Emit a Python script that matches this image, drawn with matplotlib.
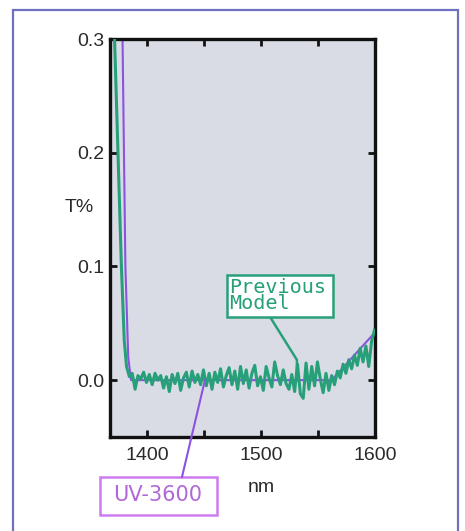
import numpy as np
import matplotlib
matplotlib.use("Agg")
import matplotlib.pyplot as plt
from matplotlib.patches import Rectangle

# UV-3600 curve (nm, T%)
UV_X = [1374.0, 1378.5, 1381.0, 1383.5, 1386.0, 1562.0, 1600.0]
UV_Y = [0.42, 0.30, 0.10, 0.02, 0.0, 0.0, 0.042]

# Previous model curve: steep edge then noisy floor
PREV_HEAD_X = [1366.0, 1371.5, 1377.5, 1380.0, 1382.0, 1384.5]
PREV_HEAD_Y = [0.42, 0.30, 0.10, 0.035, 0.012, 0.003]

PREV_NOISE_X = [
    1387.0, 1389.5, 1392.0, 1394.5, 1397.0, 1399.5, 1402.0, 1404.5, 1407.0, 1409.5,
    1412.0, 1414.5, 1417.0, 1419.5, 1422.0, 1424.5, 1427.0, 1429.5, 1432.0, 1434.5,
    1437.0, 1439.5, 1442.0, 1444.5, 1447.0, 1449.5, 1452.0, 1454.5, 1457.0, 1459.5,
    1462.0, 1464.5, 1467.0, 1469.5, 1472.0, 1474.5, 1477.0, 1479.5, 1482.0, 1484.5,
    1487.0, 1489.5, 1492.0, 1494.5, 1497.0, 1499.5, 1502.0, 1504.5, 1507.0, 1509.5,
    1512.0, 1514.5, 1517.0, 1519.5, 1522.0, 1524.5, 1527.0, 1529.5, 1532.0, 1534.5,
    1537.0, 1539.5, 1542.0, 1544.5, 1547.0, 1549.5, 1552.0, 1554.5, 1557.0, 1559.5,
    1562.0, 1564.5, 1567.0, 1569.5, 1572.0, 1574.5, 1577.0, 1579.5, 1582.0, 1584.5,
    1587.0, 1589.5, 1592.0, 1594.5, 1597.0, 1599.5,
]
PREV_NOISE_Y = [
    0.006, -0.008, 0.004, 0.001, 0.007, -0.002, 0.005, -0.004, 0.006, 0.000,
    0.004, -0.007, 0.003, -0.010, 0.005, -0.003, 0.006, -0.009, 0.002, 0.007,
    -0.006, 0.008, -0.002, 0.005, -0.004, 0.009, -0.005, 0.006, -0.008, 0.007,
    -0.002, 0.010, -0.006, 0.004, 0.011, -0.004, 0.008, -0.008, 0.012, -0.003,
    0.009, -0.007, 0.006, 0.013, -0.005, 0.003, -0.009, 0.012, 0.002, -0.006,
    0.016, 0.004, -0.004, 0.009, -0.003, -0.008, 0.005, -0.010, 0.014, -0.012,
    -0.016, 0.015, -0.008, 0.012, -0.005, 0.016, 0.001, -0.011, 0.006, -0.009,
    0.004, -0.004, 0.008, 0.002, 0.014, 0.006, 0.018, 0.010, 0.022, 0.013,
    0.028, 0.016, 0.030, 0.012, 0.034, 0.044,
]

GREEN = "#27a07a"
PURPLE = "#8c52e0"
UV_BOX = "#cc7cf0"
UV_TEXT = "#b067d8"
FACE = "#d9dce5"
FRAME = "#7070c0"

plt.rcParams["font.family"] = ["Liberation Sans", "DejaVu Sans"]

fig = plt.figure(figsize=(4.65, 5.31), dpi=100)
fig.patch.set_facecolor("white")

# outer frame
fig.add_artist(Rectangle((13 / 465, -0.05), 445 / 465, 1 - 10 / 531 + 0.05,
                         transform=fig.transFigure, fill=False,
                         edgecolor=FRAME, linewidth=1.6))

ax = fig.add_axes([110 / 465, 94 / 531, 265 / 465, 398 / 531])
ax.set_facecolor(FACE)

ax.plot(UV_X, UV_Y, color=PURPLE, linewidth=1.5, zorder=2)
ax.plot(PREV_HEAD_X + PREV_NOISE_X, PREV_HEAD_Y + PREV_NOISE_Y,
        color=GREEN, linewidth=2.2, zorder=3)

ax.set_xlim(1367.5, 1600)
ax.set_ylim(-0.05, 0.3)

ax.set_xticks([1400, 1500, 1600])
ax.set_xticks([1450, 1550], minor=True)
ax.set_yticks([0.0, 0.1, 0.2, 0.3])
ax.set_yticklabels(["0.0", "0.1", "0.2", "0.3"])

ax.tick_params(which="both", direction="in", top=True, right=True,
               length=5, width=2, color="#111111",
               labelsize=14, labelcolor="#2a2a2a")
ax.tick_params(axis="x", pad=7)
ax.tick_params(axis="y", pad=4)

for s in ax.spines.values():
    s.set_linewidth(2.4)
    s.set_color("#111111")

fig.text(79 / 465, 1 - 207 / 531, "T%", ha="center", va="center",
         fontsize=14, color="#2a2a2a")
ax.text(1500, -0.094, "nm", ha="center", va="center", fontsize=14,
        color="#2a2a2a", clip_on=False)

# Previous Model label
ax.add_patch(Rectangle((1470.5, 0.0556), 92.5, 0.0365, facecolor="white",
                       edgecolor=GREEN, linewidth=1.8, zorder=5))
ax.text(1472.0, 0.0745, "Previous\nModel", ha="left", va="center",
        family="DejaVu Sans Mono", fontsize=14.5, color=GREEN,
        linespacing=0.78, zorder=6)
ax.plot([1507.9, 1531.5, 1531.5], [0.0556, 0.0178, 0.0], color=GREEN,
        linewidth=1.8, zorder=4)

# UV-3600 label
ax.plot([1430.7, 1450.8], [-0.085, 0.0], color=PURPLE, linewidth=1.5,
        clip_on=False, zorder=4)
ax.add_artist(Rectangle((100 / 465, 1 - 515 / 531), 117 / 465, 38 / 531,
                        transform=fig.transFigure, facecolor="white",
                        edgecolor=UV_BOX, linewidth=1.8, clip_on=False))
fig.text(158 / 465, 1 - 495 / 531, "UV-3600", ha="center", va="center",
         family="DejaVu Sans", fontsize=15, color=UV_TEXT)

fig.savefig("out.png", dpi=100)
